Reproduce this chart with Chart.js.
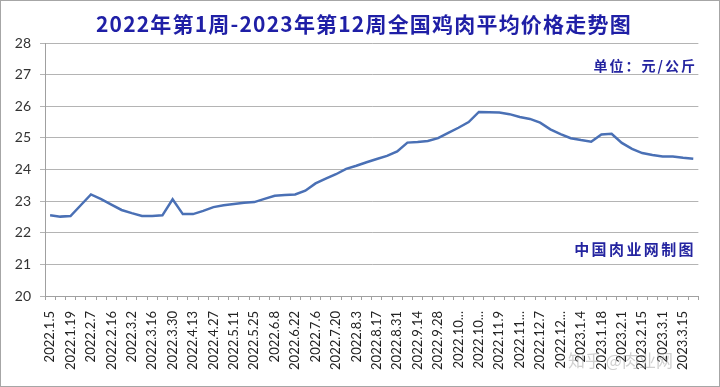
<!DOCTYPE html>
<html>
<head>
<meta charset="utf-8">
<script src="https://cdn.jsdelivr.net/npm/chart.js@4/dist/chart.umd.min.js"></script>
<style>
html,body{margin:0;padding:0;background:#fff;}
canvas{display:block;}
</style>
</head>
<body>
<canvas id="c" width="720" height="387"></canvas>
<script>
const titleText = '2022年第1周-2023年第12周全国鸡肉平均价格走势图';
const unitText = '单位：元/公斤';
const sourceText = '中国肉业网制图';
const watermarkText = '知乎 @肉业网';

const categories = [
  '2022.1.5','2022.1.12','2022.1.19','2022.1.26','2022.2.7','2022.2.9','2022.2.16','2022.2.23',
  '2022.3.2','2022.3.9','2022.3.16','2022.3.23','2022.3.30','2022.4.6','2022.4.13','2022.4.20',
  '2022.4.27','2022.5.4','2022.5.11','2022.5.18','2022.5.25','2022.6.1','2022.6.8','2022.6.15',
  '2022.6.22','2022.6.29','2022.7.6','2022.7.13','2022.7.20','2022.7.27','2022.8.3','2022.8.10',
  '2022.8.17','2022.8.24','2022.8.31','2022.9.7','2022.9.14','2022.9.21','2022.9.28','2022.10.5',
  '2022.10.12','2022.10.19','2022.10.26','2022.11.2','2022.11.9','2022.11.16','2022.11.23','2022.11.30',
  '2022.12.7','2022.12.14','2022.12.21','2022.12.28','2023.1.4','2023.1.11','2023.1.18','2023.1.25',
  '2023.2.1','2023.2.8','2023.2.15','2023.2.22','2023.3.1','2023.3.8','2023.3.15','2023.3.22'
];

const prices = [
  22.55,22.51,22.53,22.87,23.21,23.06,22.89,22.72,
  22.62,22.53,22.53,22.55,23.06,22.59,22.59,22.69,
  22.81,22.87,22.91,22.95,22.97,23.07,23.17,23.19,
  23.21,23.33,23.56,23.71,23.85,24.02,24.12,24.23,
  24.33,24.43,24.57,24.85,24.87,24.90,24.99,25.16,
  25.32,25.50,25.82,25.81,25.80,25.75,25.66,25.60,
  25.48,25.27,25.12,24.99,24.93,24.88,25.11,25.13,
  24.84,24.65,24.52,24.46,24.41,24.41,24.37,24.34
];

const yMin = 20, yMax = 28, yStep = 1;

const decorPlugin = {
  id: 'decor',
  afterDraw(chart) {
    const ctx = chart.ctx;
    ctx.save();
    // outer frame
    ctx.strokeStyle = '#a6a6a6';
    ctx.lineWidth = 1;
    ctx.strokeRect(0.5, 0.5, chart.width - 1, chart.height - 1);
    // title
    ctx.fillStyle = '#1f1fa6';
    ctx.font = 'bold 21px "Noto Sans CJK SC"';
    ctx.letterSpacing = '1.2px';
    ctx.textAlign = 'left';
    ctx.textBaseline = 'alphabetic';
    ctx.fillText(titleText, 96, 32);
    // unit
    ctx.fillStyle = '#2424a0';
    ctx.font = 'bold 14px "Noto Sans CJK SC"';
    ctx.letterSpacing = '2px';
    const uw = ctx.measureText(unitText).width;
    ctx.fillText(unitText, 697 - uw, 71);
    // source
    ctx.font = 'bold 15px "Noto Sans CJK SC"';
    ctx.letterSpacing = '2.4px';
    const sw = ctx.measureText(sourceText).width;
    ctx.fillText(sourceText, 696 - sw, 255);
    // watermark
    ctx.fillStyle = 'rgba(150,150,150,0.45)';
    ctx.font = '17px "Noto Sans CJK SC"';
    ctx.letterSpacing = '0px';
    ctx.fillText(watermarkText, 568, 367);
    ctx.restore();
  }
};

new Chart(document.getElementById('c'), {
  type: 'line',
  data: {
    labels: categories,
    datasets: [{
      data: prices,
      borderColor: '#4a70b5',
      borderWidth: 2.5,
      pointRadius: 0,
      tension: 0,
      fill: false
    }]
  },
  options: {
    responsive: false,
    animation: false,
    layout: { padding: { top: 43, right: 17, left: 0, bottom: 0 } },
    plugins: { legend: { display: false }, title: { display: false }, tooltip: { enabled: false } },
    scales: {
      x: {
        type: 'category',
        offset: true,
        afterFit(scale) { scale.height = 91; },
        grid: { drawOnChartArea: false, offset: true, tickLength: 4, color: '#a0a0a0' },
        border: { color: '#a0a0a0', width: 1 },
        ticks: {
          autoSkip: false,
          maxRotation: 90,
          minRotation: 90,
          padding: 11,
          color: '#222',
          font: { family: 'Lato', size: 13 },
          callback(value, index) {
            if (index % 2 !== 0) return '';
            const s = categories[index];
            return s.length > 9 ? s.slice(0, 7) + '...' : s;
          }
        }
      },
      y: {
        min: yMin,
        max: yMax,
        afterFit(scale) { scale.width = 45; },
        grid: { color: '#b4b4b4', tickLength: 5, lineWidth: 1 },
        border: { color: '#a0a0a0', width: 1 },
        ticks: {
          stepSize: yStep,
          padding: 9,
          color: '#333',
          font: { family: 'Lato', size: 14 }
        }
      }
    }
  },
  plugins: [decorPlugin]
});
</script>
</body>
</html>
